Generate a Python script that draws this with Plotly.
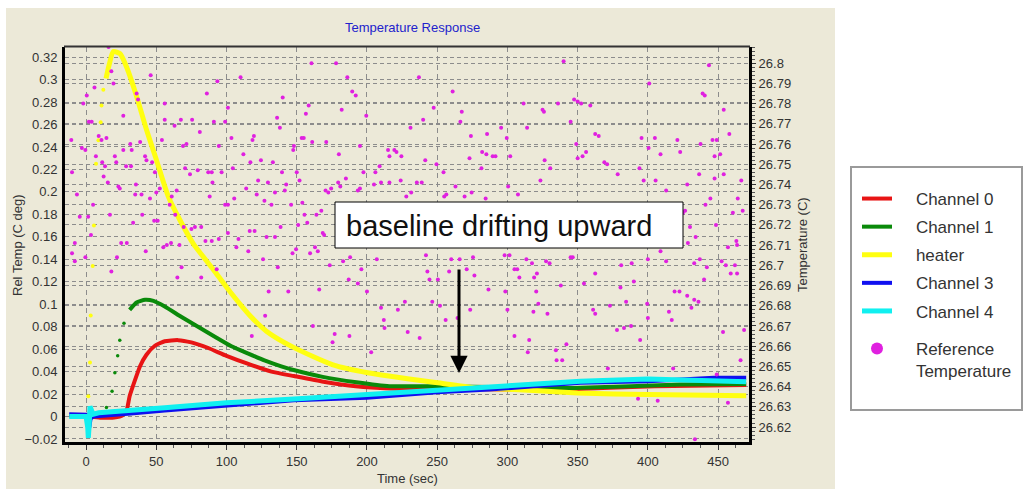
import plotly.graph_objects as go

# ---------------- data ----------------
ch0_time = [-12, 0, 10, 20, 26, 29, 31, 35, 38.5, 43, 49, 56, 65.5, 75, 87, 100, 115, 132,
            148, 169, 192, 216, 250, 300, 340, 405, 470]
ch0_val = [0.001, 0.0, -0.001, -0.001, 0.001, 0.006, 0.018, 0.033, 0.045, 0.055, 0.063, 0.067,
           0.068, 0.066, 0.061, 0.054, 0.047, 0.040, 0.036, 0.031, 0.027, 0.025, 0.0245, 0.024,
           0.024, 0.027, 0.028]

ch1_time = [-12, 0, 10, 14.5, 18.5, 20.5, 22.5, 24, 27, 31, 36, 42, 48, 56, 68, 80, 92, 103.5,
            115.5, 127, 139, 148.5, 168.5, 192.5, 216, 250, 300, 352, 423, 470]
ch1_val = [0.001, 0.0, 0.0, 0.008, 0.0225, 0.039, 0.054, 0.068, 0.083, 0.095, 0.1015, 0.104,
           0.103, 0.098, 0.0886, 0.0797, 0.0708, 0.0625, 0.056, 0.050, 0.0447, 0.0412, 0.0353,
           0.0305, 0.027, 0.027, 0.026, 0.0255, 0.0284, 0.029]

heater_time = [-12, 0, 1.6, 2.8, 3.3, 4.7, 5.6, 7.1, 8.8, 10.4, 11, 12.3, 14.2, 16.6, 19.4, 24.2,
               28.9, 36, 43.1, 50.2, 58.5, 66.8, 76.3, 90.5, 100.7, 116.6, 128.4, 147, 175.8,
               200.6, 250.5, 277.7, 305, 350, 400, 470]
heater_val = [0.0, 0.0, 0.018, 0.048, 0.090, 0.134, 0.170, 0.225, 0.246, 0.262, 0.277, 0.291,
              0.301, 0.314, 0.325, 0.323, 0.311, 0.285, 0.255, 0.228, 0.196, 0.175, 0.154, 0.131,
              0.114, 0.090, 0.076, 0.062, 0.046, 0.039, 0.030, 0.0255, 0.024, 0.021, 0.0195,
              0.0185]

ch3_time = [-12, 0, 1.2, 1.8, 2.4, 3.2, 5, 9, 32, 56, 100, 148, 200, 250, 287, 352, 400, 447, 470]
ch3_val = [0.002, 0.0015, -0.004, -0.012, -0.009, -0.002, 0.0, 0.0003, 0.0027, 0.0053, 0.0100,
           0.0145, 0.0166, 0.0216, 0.024, 0.030, 0.0314, 0.0344, 0.0344]

ch4_time = [-12, 0, 1.2, 1.6, 2.2, 2.8, 3.4, 5, 9, 56, 100, 148, 200, 250, 287, 352, 400, 447, 470]
ch4_val = [0.0, 0.0, -0.010, -0.019, -0.008, 0.009, 0.007, 0.002, 0.0033, 0.0077, 0.0122, 0.0155,
           0.0196, 0.024, 0.027, 0.0314, 0.0335, 0.0314, 0.031]

ref_time = [
    16, 46, 18, 19.5, 6, 0.5, -2, 36, 37, 56, 26.5, 2, 4, 56, 63, 67.5, 75.5, 81, 86, 93.5, 110, 101,
    99, 91, 103.5, 118.5, 119.5, 112, 124.5, 117, 133, 136, 138, 140, 147.5, -10.5, -3, -0.5, 9, 14.5,
    11, 7, 20.5, 21.5, 26.5, 31.5, 32.5, 38.5, 42, 43, 54, 47, 69, 71.5, 94.5, -10, 11.5, 13.5, 12.5,
    28.5, 32, 49, 70.5, 74, 79.5, 87, 89.5, 96.5, 104.5, 122.5, 129.5, 139.5, 134.5, 141.5, 142.5,
    -6.5, 15.5, 23, 24, 35.5, 35, 39.5, 45.5, 50, 52.5, 64.5, 88, 90, 99, 101, 105.5, 114, 121.5, 127,
    132, 146, 5, -4.5, 1.5, 17, 33.5, 40, 48.5, 51, 59.5, 61, 63.5, 69.5, 75, 77.5, 82, 85, 94.5, 101,
    108.5, 116.5, 120, 128.5, 134.5, 138.5, -8, 3.5, 25, 29,
    160.5, 178, 186, 189.5, 192, 158.5, 156.5, 182, 199.5, 237, 261, 247.5, 267.5, 266.5, 240, 231,
    274, 285.5, 295.5, 299.5, 153.5, 155, 161, 148, 171, 180, 195, 215, 219.5, 221, 216, 224.5, 241.5,
    249.5, 273, 282, 285, 289.5, 291.5, 302, 281.5, 150, 152, 197.5, 206, 209, 254.5, 179.5, 185, 181,
    170.5, 172.5, 174.5, 193.5, 195, 205, 210, 216, 224, 231.5, 228, 235.5, 239, 255, 256.5, 263,
    269.5, 274.5, 284.5, 300.5, 154, 167.5, 155.5, 164, 157.5, 151, 168.5, 169.5,
    340, 443.5, 401, 439, 440.5, 454, 311.5, 325, 326, 336, 347.5, 350, 352.5, 359, 314, 345, 362.5,
    365, 395.5, 405, 421, 446, 449, 437.5, 458, 349, 356, 353.5, 350, 400.5, 409, 423, 447.5, 451.5,
    326.5, 369, 371, 330.5, 378.5, 394, 436.5, 454, 447.5, 323.5, 397, 405.5, 466.5, 413, 428, 307.5,
    464, 444.5, 441, 426.5, 425, 460.5, 467.5, 430, 448.5, 434, 463, 428.5,
    -0.5, 22, 18, 42.5, 55, 57.5, 60.5, 66.5, 68, 65, 82, 93, 89.5, 107, 115.5, 126, 136.5, 147, 130,
    144, 127.5, 118, -10, -8,
    149.5, 159.5, 163, 165, 173.5, 183, 188, 196, 207, 187, 193.5, 166, 200, 210, 212, 212.5, 222, 227,
    229, 242, 243, 244.5, 250.5, 246.5, 252, 237.5, 256, 260, 266, 258.5, 271, 276.5, 275.5, 273.5,
    264.5, 286.5, 298, 301.5, 298.5, 300, 305, 305, 161.5, 177, 175.5, 187.5, 203,
    345, 346.5, 313.5, 317.5, 327.5, 330, 307, 308.5, 319, 321, 338, 354.5, 362.5, 381, 388.5, 390,
    380.5, 400, 409, 413, 433, 437, 442, 440, 452.5, 455.5, 457, 462, 463.5, 459, 463.5, 419, 422.5,
    428, 433, 436, 431, 320.5, 322, 328.5, 318.5, 373, 384.5, 399.5, 400, 361, 362.5, 378, 383, 388,
    394.5, 415, 417, 315.5, 314.5, 334.5, 342, 335, 339, 468.5, 453.5, 466, 371.5, 418, 449, 393, 407,
    457, 433.5,
]
ref_temp = [
    26.808, 26.794, 26.796, 26.790, 26.788, 26.784, 26.780, 26.785, 26.782, 26.780, 26.774, 26.771,
    26.771, 26.772, 26.769, 26.772, 26.772, 26.766, 26.785, 26.791, 26.793, 26.778, 26.771, 26.771,
    26.763, 26.762, 26.764, 26.755, 26.752, 26.751, 26.751, 26.773, 26.768, 26.783, 26.757, 26.762,
    26.758, 26.757, 26.764, 26.763, 26.762, 26.754, 26.754, 26.751, 26.757, 26.760, 26.757, 26.761,
    26.754, 26.752, 26.762, 26.751, 26.759, 26.760, 26.759, 26.746, 26.751, 26.749, 26.744, 26.749,
    26.749, 26.746, 26.748, 26.745, 26.747, 26.746, 26.746, 26.746, 26.748, 26.742, 26.741, 26.746,
    26.736, 26.737, 26.740, 26.735, 26.741, 26.739, 26.738, 26.740, 26.735, 26.735, 26.733, 26.736,
    26.738, 26.737, 26.734, 26.741, 26.730, 26.730, 26.733, 26.738, 26.735, 26.732, 26.730, 26.730,
    26.730, 26.724, 26.724, 26.725, 26.721, 26.725, 26.722, 26.722, 26.730, 26.734, 26.725, 26.719,
    26.718, 26.719, 26.719, 26.712, 26.713, 26.716, 26.713, 26.717, 26.717, 26.714, 26.714, 26.719,
    26.711, 26.715, 26.711, 26.711,
    26.800, 26.800, 26.793, 26.786, 26.784, 26.779, 26.775, 26.777, 26.774, 26.793, 26.786, 26.778,
    26.776, 26.771, 26.772, 26.768, 26.764, 26.765, 26.768, 26.763, 26.763, 26.763, 26.761, 26.759,
    26.761, 26.755, 26.759, 26.757, 26.757, 26.756, 26.754, 26.754, 26.752, 26.750, 26.753, 26.756,
    26.755, 26.754, 26.754, 26.754, 26.748, 26.746, 26.742, 26.746, 26.746, 26.749, 26.746, 26.741,
    26.743, 26.739, 26.737, 26.736, 26.738, 26.737, 26.738, 26.740, 26.741, 26.741, 26.742, 26.736,
    26.734, 26.741, 26.741, 26.734, 26.735, 26.739, 26.734, 26.736, 26.733, 26.739, 26.731, 26.727,
    26.725, 26.725, 26.721, 26.720, 26.716, 26.715,
    26.801, 26.799, 26.790, 26.785, 26.784, 26.777, 26.780, 26.777, 26.776, 26.780, 26.782, 26.781,
    26.780, 26.779, 26.768, 26.771, 26.765, 26.764, 26.763, 26.763, 26.762, 26.762, 26.762, 26.760,
    26.765, 26.760, 26.756, 26.754, 26.753, 26.758, 26.755, 26.756, 26.754, 26.755, 26.752, 26.751,
    26.750, 26.748, 26.745, 26.748, 26.745, 26.745, 26.743, 26.742, 26.742, 26.742, 26.742, 26.737,
    26.740, 26.735, 26.733, 26.733, 26.730, 26.727, 26.726, 26.726, 26.727, 26.719, 26.720, 26.714,
    26.712, 26.711,
    26.704, 26.704, 26.697, 26.707, 26.709, 26.710, 26.711, 26.710, 26.699, 26.694, 26.694, 26.698,
    26.712, 26.709, 26.707, 26.703, 26.699, 26.706, 26.687, 26.687, 26.675, 26.665, 26.706, 26.702,
    26.708, 26.706, 26.709, 26.707, 26.700, 26.702, 26.704, 26.698, 26.703, 26.693, 26.691, 26.688,
    26.687, 26.679, 26.673, 26.669, 26.678, 26.682, 26.667, 26.705, 26.697, 26.693, 26.693, 26.682,
    26.680, 26.664, 26.673, 26.703, 26.703, 26.697, 26.698, 26.695, 26.704, 26.678, 26.674, 26.688,
    26.705, 26.705, 26.687, 26.678, 26.698, 26.665, 26.670, 26.666, 26.662, 26.665, 26.657,
    26.704, 26.704, 26.703, 26.701, 26.702, 26.701, 26.698, 26.694, 26.694, 26.696, 26.690, 26.691,
    26.696, 26.700, 26.701, 26.692, 26.689, 26.703, 26.707, 26.702, 26.701, 26.703, 26.699, 26.693,
    26.702, 26.700, 26.709, 26.700, 26.710, 26.696, 26.696, 26.687, 26.687, 26.685, 26.683, 26.682,
    26.679, 26.687, 26.681, 26.676, 26.677, 26.680, 26.682, 26.681, 26.674, 26.678, 26.676, 26.668,
    26.669, 26.670, 26.663, 26.677, 26.673, 26.663, 26.657, 26.658, 26.661, 26.653, 26.653, 26.668,
    26.667, 26.653, 26.649, 26.649, 26.646, 26.634, 26.633, 26.632, 26.614,
]

legend_names = ["Channel 0", "Channel 1", "heater", "Channel 3", "Channel 4",
                "Reference<br>Temperature"]

# ---------------- layout helpers (pixel -> paper) ----------------
PL, PR, PT, PB = 65, 749, 47, 442
W, H = 1023, 489


def px(xp):
    return (xp - PL) / (PR - PL)


def py(yp):
    return (PB - yp) / (PB - PT)


FONT = "Liberation Sans, Arial, sans-serif"
BEIGE = "#ECE9D8"
GRID = "#8c8c8c"
RED, GREEN, YELLOW, BLUE, CYAN, MAGENTA = "#E81414", "#0A8A0A", "#FFFF10", "#1010F0", "#10F0F0", "#E020E0"
PAD = "\u00a0" * 4  # gap between legend symbol and label

fig = go.Figure()

# heater: sparse rise dots, then solid line from near the peak
peak = heater_val.index(max(heater_val))
fig.add_trace(go.Scatter(x=heater_time[2:peak - 2], y=heater_val[2:peak - 2], mode="markers",
                         marker=dict(size=4, color=YELLOW), showlegend=False, hoverinfo="skip"))
# channel 1 rise dots
rise1 = [i for i, t in enumerate(ch1_time) if 12 < t < 31]
fig.add_trace(go.Scatter(x=[ch1_time[i] for i in rise1], y=[ch1_val[i] for i in rise1],
                         mode="markers", marker=dict(size=3.5, color=GREEN),
                         showlegend=False, hoverinfo="skip"))

fig.add_trace(go.Scatter(x=ch0_time, y=ch0_val, mode="lines", name=PAD + legend_names[0],
                         legendgroup="a",
                         line=dict(color=RED, width=4, shape="spline", smoothing=0.5)))
g0 = rise1[-1] + 1
fig.add_trace(go.Scatter(x=ch1_time[g0:], y=ch1_val[g0:], mode="lines",
                         name=PAD + legend_names[1], legendgroup="b",
                         line=dict(color=GREEN, width=4, shape="spline", smoothing=0.5)))
fig.add_trace(go.Scatter(x=heater_time[peak - 2:], y=heater_val[peak - 2:], mode="lines",
                         name=PAD + legend_names[2], legendgroup="c",
                         line=dict(color=YELLOW, width=5, shape="spline", smoothing=0.6)))
fig.add_trace(go.Scatter(x=ch3_time, y=ch3_val, mode="lines", name=PAD + legend_names[3],
                         legendgroup="d", line=dict(color=BLUE, width=4)))
fig.add_trace(go.Scatter(x=ch4_time, y=ch4_val, mode="lines", name=PAD + legend_names[4],
                         legendgroup="e", line=dict(color=CYAN, width=5)))
fig.add_trace(go.Scatter(x=ref_time, y=ref_temp, yaxis="y2", mode="markers",
                         name=legend_names[5].replace("<br>", "<br>" + PAD).join([PAD, ""]),
                         legend="legend2", marker=dict(size=4, color=MAGENTA)))

tickfont = dict(family=FONT, size=13, color="#333333")

fig.update_layout(
    width=W, height=H,
    margin=dict(l=PL, r=W - PR, t=PT, b=H - PB, autoexpand=False),
    paper_bgcolor="white", plot_bgcolor=BEIGE,
    font=dict(family=FONT),
    xaxis=dict(range=[-15, 472], tick0=0, dtick=50, showgrid=True, gridcolor=GRID, gridwidth=1,
               griddash="5px,4px", zeroline=False, showline=True, linecolor="black", linewidth=3,
               ticks="outside", ticklen=5, tickcolor="#333", tickwidth=1,
               minor=dict(tick0=0, dtick=12.5, ticks="outside", ticklen=3, tickcolor="#555",
                          showgrid=False),
               tickfont=tickfont),
    yaxis=dict(range=[-0.0227, 0.329], tick0=0, dtick=0.02, tickformat=".2~f", showgrid=True,
               gridcolor=GRID, gridwidth=1, griddash="4px,3px", zeroline=False, showline=True,
               linecolor="black", linewidth=3, ticks="", tickfont=tickfont,
               ticklabelstandoff=2),
    yaxis2=dict(range=[26.6126, 26.808], tick0=26.62, dtick=0.01, tickformat=".4~g",
                overlaying="y", side="right", anchor="x", showgrid=True, gridcolor=GRID,
                gridwidth=1, griddash="4px,3px", zeroline=False, showline=True,
                linecolor="black", linewidth=3, ticks="outside", ticklen=4, tickcolor="#333",
                minor=dict(dtick=0.002, ticks="outside", ticklen=3, tickcolor="#555",
                           showgrid=False),
                tickfont=tickfont),
    legend=dict(x=px(857), y=py(181), xanchor="left", yanchor="top", bgcolor="rgba(0,0,0,0)",
                borderwidth=0, font=dict(family=FONT, size=17, color="#333333"),
                tracegroupgap=3),
    legend2=dict(x=px(857), y=py(331), xanchor="left", yanchor="top", bgcolor="rgba(0,0,0,0)",
                 borderwidth=0, font=dict(family=FONT, size=17, color="#333333"),
                 itemsizing="constant", valign="top"),
    shapes=[
        dict(type="rect", xref="paper", yref="paper", x0=px(6), x1=px(835), y0=py(489), y1=py(8),
             fillcolor=BEIGE, line=dict(width=0), layer="below"),
        dict(type="line", xref="paper", yref="paper", x0=px(64), x1=px(750), y0=py(46.5),
             y1=py(46.5), line=dict(color="#333333", width=2)),
        dict(type="rect", xref="paper", yref="paper", x0=px(851), x1=px(1022), y0=py(410),
             y1=py(167), fillcolor="white", line=dict(color="#9a9a9a", width=2), layer="below"),
        dict(type="rect", xref="paper", yref="paper", x0=px(335), x1=px(683), y0=py(248),
             y1=py(202), fillcolor="white", line=dict(color="black", width=1), layer="above"),
    ],
    annotations=[
        dict(text="Temperature Response", xref="paper", yref="paper", x=px(412), y=py(28),
             xanchor="center", yanchor="middle", showarrow=False,
             font=dict(family=FONT, size=13, color="#2222CC")),
        dict(text="Rel Temp (C deg)", xref="paper", yref="paper", x=px(17), y=py(245),
             xanchor="center", yanchor="middle", textangle=-90, showarrow=False,
             font=dict(family=FONT, size=13, color="#333")),
        dict(text="Temperature (C)", xref="paper", yref="paper", x=px(802), y=py(245),
             xanchor="center", yanchor="middle", textangle=-90, showarrow=False,
             font=dict(family=FONT, size=13, color="#333")),
        dict(text="Time (sec)", xref="paper", yref="paper", x=px(407), y=py(478),
             xanchor="center", yanchor="middle", showarrow=False,
             font=dict(family=FONT, size=13, color="#333")),
        dict(text="baseline drifting upward", xref="paper", yref="paper", x=px(499), y=py(226),
             xanchor="center", yanchor="middle", showarrow=False,
             font=dict(family=FONT, size=29, color="#111")),
        dict(text="", xref="paper", yref="paper", x=px(459), y=py(373), ax=0, ay=-105,
             showarrow=True, arrowhead=2, arrowsize=1.15, arrowwidth=3, arrowcolor="black"),
    ],
)

fig.write_html("out.html")
